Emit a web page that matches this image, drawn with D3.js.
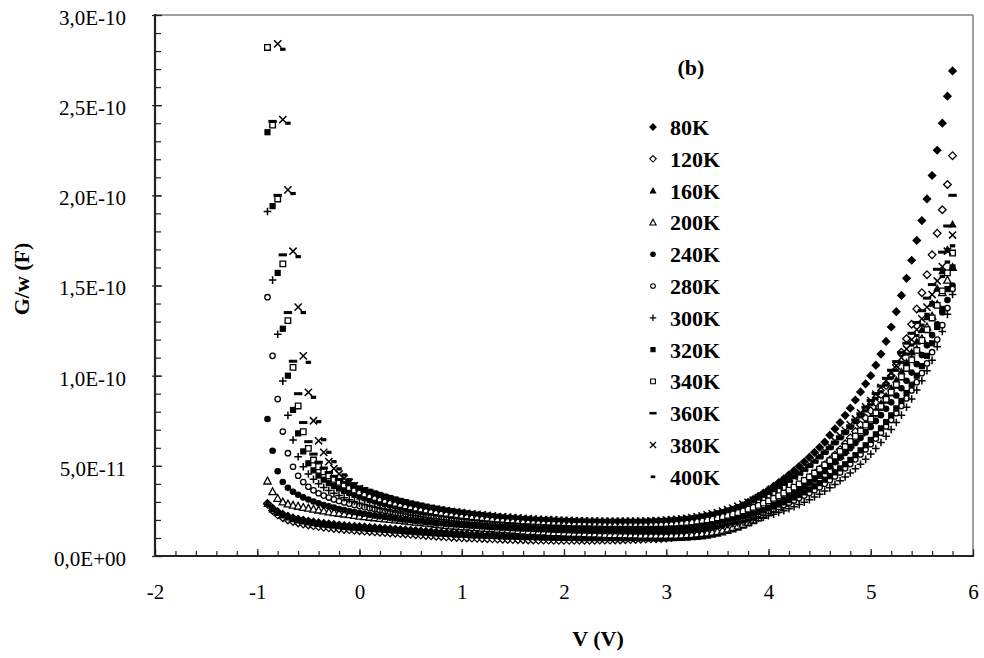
<!DOCTYPE html>
<html>
<head>
<meta charset="utf-8">
<script src="https://cdn.jsdelivr.net/npm/d3@7"></script>
<style>
  body { margin: 0; background: #fff; }
  text { font-family: "Liberation Serif", "Times New Roman", serif; fill: #000; }
</style>
</head>
<body>
<svg id="chart" width="984" height="658"></svg>
<script>
// Bias voltage (V) shared by every temperature series
const voltages = [
  -0.9,-0.85,-0.8,-0.75,-0.7,-0.65,-0.6,-0.55,-0.5,-0.45,
  -0.4,-0.35,-0.3,-0.25,-0.2,-0.15,-0.1,-0.05,0,0.05,
  0.1,0.15,0.2,0.25,0.3,0.35,0.4,0.45,0.5,0.55,
  0.6,0.65,0.7,0.75,0.8,0.85,0.9,0.95,1.0,1.05,
  1.1,1.15,1.2,1.25,1.3,1.35,1.4,1.45,1.5,1.55,
  1.6,1.65,1.7,1.75,1.8,1.85,1.9,1.95,2.0,2.05,
  2.1,2.15,2.2,2.25,2.3,2.35,2.4,2.45,2.5,2.55,
  2.6,2.65,2.7,2.75,2.8,2.85,2.9,2.95,3.0,3.05,
  3.1,3.15,3.2,3.25,3.3,3.35,3.4,3.45,3.5,3.55,
  3.6,3.65,3.7,3.75,3.8,3.85,3.9,3.95,4.0,4.05,
  4.1,4.15,4.2,4.25,4.3,4.35,4.4,4.45,4.5,4.55,
  4.6,4.65,4.7,4.75,4.8,4.85,4.9,4.95,5.0,5.05,
  5.1,5.15,5.2,5.25,5.3,5.35,5.4,5.45,5.5,5.55,
  5.6,5.65,5.7,5.75,5.8
];

// G/w in units of 1E-12 F, one array per temperature
const g80K = [
  29.2,26.5,24.6,23.2,22.1,21.2,20.5,19.9,19.4,18.9,
  18.5,18.1,17.8,17.5,17.2,16.9,16.7,16.5,16.3,16.1,
  15.9,15.7,15.5,15.3,15.1,14.9,14.7,14.5,14.3,14.1,
  13.9,13.7,13.5,13.3,13.1,12.9,12.7,12.5,12.3,12.1,
  11.9,11.8,11.6,11.5,11.4,11.3,11.2,11.1,11.0,10.9,
  10.8,10.7,10.7,10.6,10.6,10.5,10.5,10.4,10.4,10.4,
  10.4,10.4,10.4,10.4,10.4,10.4,10.5,10.5,10.5,10.6,
  10.6,10.7,10.8,10.9,11.0,11.1,11.2,11.4,11.6,11.9,
  12.3,12.8,13.5,14.3,15.3,16.5,17.8,19.2,20.6,22.0,
  23.4,24.9,26.4,28.0,29.7,31.4,33.1,34.9,36.8,38.7,
  40.7,42.8,45.0,47.3,49.7,52.2,54.8,57.5,60.3,63.2,
  67.0,70.5,74.0,78.0,82.0,86.5,91.0,95.5,100.0,105.8,
  112.0,119.0,127.0,135.5,144.5,154.0,164.0,175.0,186.0,198.0,
  211,225,240,255,269
];
const g120K = [
  28.8,25.2,22.8,21.2,20.0,19.1,18.3,17.7,17.2,16.7,
  16.3,15.9,15.6,15.3,15.0,14.7,14.5,14.2,14.0,13.8,
  13.6,13.4,13.2,13.0,12.8,12.6,12.4,12.2,12.0,11.8,
  11.6,11.4,11.2,11.0,10.8,10.6,10.4,10.3,10.1,10.0,
  9.9,9.8,9.7,9.6,9.5,9.4,9.3,9.2,9.1,9.0,
  9.0,8.9,8.9,8.8,8.8,8.8,8.7,8.7,8.7,8.7,
  8.7,8.7,8.7,8.7,8.7,8.8,8.8,8.8,8.9,8.9,
  9.0,9.1,9.2,9.3,9.4,9.5,9.6,9.75,9.9,10.2,
  10.6,11.1,11.7,12.3,13.0,13.8,14.6,15.5,16.4,17.4,
  18.4,19.5,20.6,21.8,23.0,24.3,25.6,27.0,28.5,30.0,
  31.6,33.3,35.1,37.0,39.0,41.1,43.3,45.6,48.0,50.5,
  53.2,56.0,59.0,62.2,65.5,69.0,72.7,76.5,80.5,85.0,
  89.5,94.5,100,106,113,120.5,128.5,137,146,156,
  167,179,192,206,222
];
const g160K = [
  29.0,26.0,24.0,22.6,21.5,20.6,19.9,19.3,18.8,18.3,
  17.9,17.5,17.2,16.9,16.6,16.3,16.0,15.8,15.6,15.4,
  15.2,15.0,14.8,14.6,14.4,14.2,14.0,13.8,13.6,13.4,
  13.2,13.0,12.8,12.7,12.5,12.3,12.2,12.0,11.9,11.8,
  11.6,11.5,11.4,11.3,11.2,11.1,11.0,10.9,10.8,10.7,
  10.6,10.5,10.5,10.4,10.3,10.3,10.2,10.2,10.1,10.1,
  10.1,10.0,10.0,10.0,10.0,10.0,10.0,10.0,10.0,10.0,
  10.0,10.0,10.0,10.0,10.0,10.0,10.0,10.0,10.0,10.0,
  10.1,10.2,10.3,10.5,10.7,11.0,11.4,11.9,12.5,13.2,
  14.0,14.9,15.9,17.0,18.2,19.5,20.9,22.4,24.0,25.7,
  27.5,29.4,31.4,33.5,35.7,38.0,40.4,42.9,45.5,48.2,
  51.0,53.9,56.9,60.0,63.2,66.5,69.9,73.4,77.0,80.8,
  84.7,88.8,93.1,97.6,102.4,107.5,113.0,119.0,125.5,132.5,
  140,148.5,158,170,184
];
const g200K = [
  41.6,35.7,32.0,30.0,28.9,28.2,27.6,27.0,26.5,26.0,
  25.5,25.0,24.5,24.1,23.7,23.3,22.9,22.5,22.1,21.8,
  21.5,21.2,20.9,20.6,20.3,20.0,19.7,19.4,19.1,18.8,
  18.5,18.2,17.9,17.6,17.3,17.0,16.7,16.5,16.3,16.1,
  15.9,15.7,15.5,15.3,15.1,14.9,14.7,14.5,14.3,14.1,
  13.9,13.7,13.6,13.4,13.3,13.1,13.0,12.9,12.8,12.7,
  12.6,12.5,12.4,12.3,12.2,12.1,12.0,11.9,11.9,11.8,
  11.8,11.7,11.7,11.6,11.6,11.6,11.5,11.5,11.5,11.5,
  11.6,11.7,11.8,12.0,12.2,12.5,12.8,13.2,13.7,14.3,
  15.0,15.8,16.7,17.7,18.8,20.0,21.3,22.7,24.2,25.8,
  27.5,29.3,31.2,33.2,35.3,37.5,39.8,42.2,44.7,47.3,
  50.0,52.8,55.7,58.7,61.8,65.0,68.3,71.7,75.2,78.8,
  82.5,86.4,90.5,94.8,99.3,104.0,109.0,114.5,120.5,127.0,
  133,139.5,146,153,160
];
const g240K = [
  76.0,58.4,47.0,41.0,37.8,35.6,33.9,32.5,31.3,30.2,
  29.2,28.3,27.5,26.8,26.1,25.5,24.9,24.4,23.9,23.4,
  22.9,22.4,22.0,21.6,21.2,20.8,20.4,20.1,19.8,19.5,
  19.2,18.9,18.6,18.3,18.1,17.8,17.6,17.4,17.2,17.0,
  16.8,16.6,16.4,16.2,16.0,15.9,15.7,15.6,15.4,15.3,
  15.2,15.1,15.0,14.9,14.8,14.7,14.6,14.5,14.4,14.3,
  14.2,14.2,14.1,14.0,14.0,13.9,13.9,13.8,13.8,13.7,
  13.7,13.7,13.6,13.6,13.6,13.6,13.6,13.6,13.6,13.7,
  13.8,13.9,14.1,14.3,14.6,15.0,15.4,15.9,16.5,17.2,
  17.9,18.7,19.6,20.6,21.7,22.8,24.0,25.3,26.7,28.2,
  29.7,31.3,33.0,34.8,36.7,38.6,40.6,42.7,44.9,47.2,
  49.6,52.0,54.5,57.1,59.8,62.6,65.5,68.5,71.6,74.8,
  78.1,81.6,85.2,89.0,93.0,97.2,101.7,106.4,111.4,116.8,
  122.5,128.5,135,142,150
];
const g280K = [
  143.5,111.0,87.0,69.0,57.0,49.5,44.5,41.0,38.4,36.4,
  34.8,33.5,32.4,31.4,30.5,29.7,29.0,28.3,27.7,27.1,
  26.5,25.9,25.4,24.9,24.4,23.9,23.5,23.1,22.7,22.3,
  21.9,21.6,21.3,21.0,20.7,20.4,20.1,19.9,19.7,19.5,
  19.3,19.1,18.9,18.7,18.5,18.4,18.2,18.1,17.9,17.8,
  17.7,17.6,17.5,17.4,17.3,17.2,17.1,17.0,16.9,16.9,
  16.8,16.8,16.7,16.7,16.6,16.6,16.5,16.5,16.5,16.4,
  16.4,16.4,16.4,16.4,16.4,16.4,16.4,16.4,16.5,16.5,
  16.6,16.7,16.8,17.0,17.2,17.4,17.7,18.0,18.4,18.8,
  19.3,19.8,20.4,21.0,21.7,22.4,23.2,24.0,24.9,26.0,
  27.1,28.3,29.5,30.8,32.1,33.5,35.0,36.5,38.1,40.0,
  42.0,44.1,46.3,48.6,51.0,53.6,56.3,59.1,62.0,65.1,
  68.4,71.8,75.4,79.2,83.2,87.4,91.8,96.4,101.4,106.8,
  113,120,128,137.5,148
];
const g300K = [
  191,153,123,97,78,64.3,55.0,49.5,45.5,42.5,
  40.0,38.0,36.3,34.8,33.5,32.3,31.2,30.2,29.3,28.5,
  27.7,27.0,26.3,25.6,25.0,24.4,23.8,23.3,22.8,22.3,
  21.8,21.4,21.0,20.6,20.2,19.9,19.6,19.3,19.0,18.7,
  18.5,18.3,18.1,17.9,17.7,17.5,17.3,17.2,17.0,16.9,
  16.8,16.7,16.6,16.5,16.4,16.3,16.2,16.1,16.0,15.9,
  15.9,15.8,15.8,15.7,15.7,15.6,15.6,15.5,15.5,15.5,
  15.4,15.4,15.4,15.4,15.4,15.4,15.4,15.4,15.4,15.5,
  15.5,15.6,15.7,15.8,15.9,16.1,16.3,16.5,16.8,17.1,
  17.5,17.9,18.4,18.9,19.5,20.1,20.8,21.5,22.3,23.2,
  24.1,25.1,26.2,27.3,28.5,29.8,31.2,32.7,34.3,36.0,
  37.8,39.7,41.7,43.8,46.0,48.4,50.9,53.6,56.5,59.6,
  62.9,66.4,70.1,74.0,78.1,82.5,87.1,92.0,97.2,102.7,
  108.5,116,124.5,134,145
];
const g320K = [
  235,194,157,126,100,81,68,58,51.4,47.5,
  44.6,42.3,40.4,38.8,37.4,36.1,35.0,33.9,32.9,32.0,
  31.1,30.3,29.5,28.8,28.1,27.5,26.9,26.3,25.8,25.3,
  24.8,24.3,23.9,23.5,23.1,22.7,22.3,22.0,21.7,21.4,
  21.1,20.8,20.6,20.3,20.1,19.9,19.7,19.5,19.3,19.1,
  19.0,18.8,18.7,18.6,18.4,18.3,18.2,18.1,18.0,17.9,
  17.8,17.8,17.7,17.6,17.6,17.5,17.5,17.4,17.4,17.4,
  17.3,17.3,17.3,17.3,17.3,17.3,17.3,17.3,17.4,17.4,
  17.5,17.6,17.7,17.9,18.1,18.3,18.6,18.9,19.3,19.7,
  20.2,20.7,21.3,22.0,22.7,23.5,24.4,25.3,26.3,27.4,
  28.5,29.7,31.0,32.4,33.8,35.3,36.9,38.6,40.4,42.3,
  44.3,46.4,48.6,50.9,53.3,55.9,58.6,61.4,64.4,67.5,
  70.8,74.3,78.0,81.9,86.0,90.4,95.0,100.0,105.3,111.0,
  118,127,137,148,160
];
const g340K = [
  282,239,198,162,130.5,104.6,83.2,68.9,59.7,53.2,
  49.5,46.7,44.4,42.5,40.8,39.3,37.9,36.6,35.4,34.3,
  33.3,32.4,31.5,30.7,29.9,29.2,28.5,27.8,27.2,26.6,
  26.0,25.5,25.0,24.5,24.1,23.7,23.3,22.9,22.5,22.2,
  21.9,21.6,21.3,21.0,20.8,20.5,20.3,20.1,19.9,19.7,
  19.5,19.4,19.2,19.1,18.9,18.8,18.7,18.6,18.5,18.4,
  18.3,18.3,18.2,18.2,18.1,18.1,18.0,18.0,18.0,18.0,
  17.9,17.9,17.9,17.9,17.9,17.9,18.0,18.0,18.1,18.2,
  18.3,18.5,18.7,19.0,19.3,19.7,20.1,20.6,21.2,21.8,
  22.5,23.3,24.1,25.0,26.0,27.0,28.1,29.3,30.6,32.0,
  33.4,34.9,36.5,38.2,40.0,41.9,43.9,46.0,48.2,50.5,
  52.9,55.4,58.0,60.7,63.5,66.4,69.4,72.6,75.9,79.4,
  83.0,86.8,90.8,95.0,99.4,104.0,108.8,114.0,119.5,125.5,
  132,139,147,157,168
];
const g360K = [
  320,241,200,167,135,108,90,74,63.4,56.5,
  52.0,48.8,46.3,44.2,42.4,40.8,39.4,38.1,36.9,35.8,
  34.8,33.8,32.9,32.0,31.2,30.4,29.7,29.0,28.4,27.8,
  27.2,26.7,26.2,25.7,25.2,24.8,24.4,24.0,23.6,23.3,
  23.0,22.7,22.4,22.1,21.8,21.5,21.3,21.1,20.9,20.7,
  20.5,20.3,20.1,20.0,19.8,19.7,19.6,19.5,19.4,19.3,
  19.2,19.1,19.1,19.0,19.0,18.9,18.9,18.8,18.8,18.8,
  18.8,18.8,18.8,18.8,18.8,18.9,19.0,19.1,19.2,19.4,
  19.6,19.9,20.2,20.6,21.0,21.5,22.1,22.7,23.4,24.2,
  25.1,26.0,27.0,28.1,29.2,30.4,31.7,33.1,34.6,36.2,
  37.9,39.7,41.6,43.6,45.7,47.9,50.2,52.6,55.1,57.7,
  60.4,63.2,66.1,69.1,72.2,75.5,78.9,82.5,86.2,90.1,
  94.2,98.5,103.0,107.8,112.8,118.0,123.5,129.5,136.0,143.0,
  150.5,159,168.5,183,200
];
const g380K = [
  390,335,284,242,203,169,138,111,90.8,75.0,
  63.9,57.5,52.3,48.5,45.5,43.0,40.8,38.9,37.3,36.1,
  35.0,34.0,33.1,32.2,31.4,30.7,30.0,29.3,28.7,28.1,
  27.5,27.0,26.5,26.0,25.6,25.2,24.8,24.4,24.0,23.7,
  23.4,23.1,22.8,22.5,22.2,21.9,21.7,21.5,21.3,21.1,
  20.9,20.7,20.5,20.4,20.2,20.1,20.0,19.9,19.8,19.7,
  19.6,19.5,19.5,19.4,19.4,19.3,19.3,19.3,19.3,19.3,
  19.3,19.3,19.3,19.3,19.4,19.5,19.6,19.7,19.9,20.1,
  20.3,20.6,20.9,21.3,21.7,22.2,22.8,23.4,24.1,24.9,
  25.7,26.6,27.6,28.7,29.8,31.0,32.3,33.7,35.2,36.8,
  38.5,40.3,42.2,44.2,46.3,48.5,50.8,53.2,55.7,58.3,
  61.0,63.8,66.7,69.7,72.8,76.0,79.3,82.7,86.2,89.8,
  93.5,97.3,101.3,105.5,110.0,114.8,120.0,125.5,131.5,138.0,
  145,152.5,160.5,169,178
];
const g400K = [
  450,390,330,281,240,201,166,135,107.4,88.0,
  74.5,64.5,57.5,52.3,48.3,45.0,42.3,40.1,38.3,37.4,
  36.5,35.6,34.7,33.8,33.0,32.2,31.4,30.7,30.0,29.4,
  28.8,28.2,27.6,27.1,26.6,26.1,25.7,25.3,24.9,24.5,
  24.1,23.8,23.5,23.2,22.9,22.6,22.3,22.0,21.8,21.6,
  21.4,21.2,21.0,20.8,20.7,20.6,20.5,20.4,20.3,20.2,
  20.1,20.0,20.0,19.9,19.9,19.8,19.8,19.8,19.8,19.8,
  19.8,19.8,19.8,19.8,19.9,20.0,20.1,20.2,20.4,20.6,
  20.8,21.1,21.4,21.8,22.2,22.7,23.2,23.8,24.5,25.2,
  26.0,26.9,27.8,28.8,29.9,31.0,32.2,33.5,34.9,36.4,
  38.0,39.7,41.5,43.4,45.4,47.5,49.7,52.0,54.4,56.9,
  59.5,62.2,65.0,67.9,70.9,74.0,77.2,80.5,83.9,87.4,
  91.0,94.8,98.8,103.0,107.4,112.0,117.0,122.3,128.0,134.0,
  140.5,147.5,155,163,172
];

const temperatures = ["80K","120K","160K","200K","240K","280K","300K","320K","340K","360K","380K","400K"];
const seriesValues = [g80K,g120K,g160K,g200K,g240K,g280K,g300K,g320K,g340K,g360K,g380K,g400K];

// Axis ticks (values in 1E-12 F on y)
const xTickValues = [-2,-1,0,1,2,3,4,5,6];
const yTickValues = [0,50,100,150,200,250,300];
const yTickLabels = ["0,0E+00","5,0E-11","1,0E-10","1,5E-10","2,0E-10","2,5E-10","3,0E-10"];

// Marker shape for each series, in legend order
const markerKinds = ["diamond","diamondOpen","triangle","triangleOpen","circle","circleOpen",
                     "plus","square","squareOpen","longBar","cross","shortBar"];

const svg = d3.select("#chart");
const W = 984, H = 658;
const plot = { left: 155, right: 973, top: 15, bottom: 556 };

svg.append("rect").attr("width", W).attr("height", H).attr("fill", "#fff");

const x = d3.scaleLinear().domain([-2, 6]).range([plot.left, plot.right]);
const y = d3.scaleLinear().domain([0, 300]).range([plot.bottom, plot.top]);

// Marker drawing
function markerPath(kind) {
  switch (kind) {
    case "diamond": return "M0,-4.6L4.6,0L0,4.6L-4.6,0Z";
    case "diamondOpen": return "M0,-3.8L3.8,0L0,3.8L-3.8,0Z";
    case "triangle": return "M0,-4.2L4.2,3.3L-4.2,3.3Z";
    case "triangleOpen": return "M0,-3.8L3.7,3.0L-3.7,3.0Z";
    case "circle": return d3.symbol(d3.symbolCircle, Math.PI * 3.3 * 3.3)();
    case "circleOpen": return d3.symbol(d3.symbolCircle, Math.PI * 2.7 * 2.7)();
    case "plus": return "M-3.8,0H3.8M0,-3.8V3.8";
    case "square": return "M-3.1,-3.1H3.1V3.1H-3.1Z";
    case "squareOpen": return "M-2.8,-2.8H2.8V2.8H-2.8Z";
    case "longBar": return "M-4.2,-1.5H4.2V1.5H-4.2Z";
    case "cross": return "M-3.6,-3.6L3.6,3.6M-3.6,3.6L3.6,-3.6";
    case "shortBar": return "M-2.7,-1.6H2.7V1.6H-2.7Z";
  }
}
function styleMarker(sel, kind) {
  const open = kind.endsWith("Open");
  const stroked = kind === "plus" || kind === "cross";
  sel.attr("d", markerPath(kind))
     .attr("fill", open ? "#fff" : (stroked ? "none" : "#000"))
     .attr("stroke", open || stroked ? "#000" : "none")
     .attr("stroke-width", stroked ? 1.5 : 1.3);
}

// Data points, drawn series by series
const series = temperatures.map((name, k) => ({
  name, kind: markerKinds[k],
  points: voltages.map((v, i) => ({ v, g: seriesValues[k][i] }))
                  .filter(p => p.g <= y.domain()[1])
}));

const pointsLayer = svg.append("g");
series.forEach(s => {
  pointsLayer.append("g")
    .selectAll("path")
    .data(s.points)
    .join("path")
    .attr("transform", p => `translate(${x(p.v)},${y(p.g)})`)
    .call(styleMarker, s.kind);
});

// Frame: grey top/right, dark axes left/bottom
svg.append("line").attr("x1", plot.left).attr("x2", plot.right).attr("y1", plot.top).attr("y2", plot.top)
  .attr("stroke", "#808080").attr("stroke-width", 1.5);
svg.append("line").attr("x1", plot.right).attr("x2", plot.right).attr("y1", plot.top).attr("y2", plot.bottom)
  .attr("stroke", "#808080").attr("stroke-width", 1.5);

// Y axis: minor inward ticks every 1E-11, labelled major ticks
const yMinor = d3.range(0, 301, 10);
svg.append("g").attr("transform", `translate(${plot.left},0)`)
  .call(d3.axisLeft(y).tickValues(yMinor).tickSizeInner(-6).tickSizeOuter(0).tickFormat(""))
  .call(g => g.select(".domain").remove())
  .call(g => g.selectAll("line").attr("stroke", "#222").attr("stroke-width", 1.2));

const yAxis = svg.append("g").attr("transform", `translate(${plot.left},0)`)
  .call(d3.axisLeft(y).tickValues(yTickValues).tickSizeInner(-7).tickSizeOuter(0).tickPadding(29)
        .tickFormat((d, i) => yTickLabels[i]));
yAxis.select(".domain").remove();
yAxis.selectAll("line").attr("x1", -3).attr("stroke", "#222").attr("stroke-width", 1.2);
yAxis.selectAll("text").attr("font-size", 21).attr("font-family", '"Liberation Serif", "Times New Roman", serif')
  .attr("dy", "0.45em");

// X axis: minor inward ticks every 0.2 V, labelled integers
const xMinor = d3.range(-20, 61, 2).map(d => d / 10);
svg.append("g").attr("transform", `translate(0,${plot.bottom})`)
  .call(d3.axisBottom(x).tickValues(xMinor).tickSizeInner(-5).tickSizeOuter(0).tickFormat(""))
  .call(g => g.select(".domain").remove())
  .call(g => g.selectAll("line").attr("stroke", "#222").attr("stroke-width", 1.2));

const xAxis = svg.append("g").attr("transform", `translate(0,${plot.bottom})`)
  .call(d3.axisBottom(x).tickValues(xTickValues).tickSizeInner(-7).tickSizeOuter(0).tickPadding(28)
        .tickFormat(d3.format("d")));
xAxis.select(".domain").remove();
xAxis.selectAll("line").attr("stroke", "#222").attr("stroke-width", 1.2);
xAxis.selectAll("text").attr("font-size", 21).attr("font-family", '"Liberation Serif", "Times New Roman", serif')
  .text(d => d < 0 ? "-" + Math.abs(d) : String(d));

svg.append("line").attr("x1", plot.left).attr("x2", plot.left).attr("y1", plot.top - 1).attr("y2", plot.bottom + 1)
  .attr("stroke", "#222").attr("stroke-width", 2.2);
svg.append("line").attr("x1", plot.left - 1).attr("x2", plot.right + 1).attr("y1", plot.bottom).attr("y2", plot.bottom)
  .attr("stroke", "#222").attr("stroke-width", 2.2);

// Axis titles
svg.append("text").attr("x", 598).attr("y", 646).attr("text-anchor", "middle")
  .attr("font-size", 22).attr("font-weight", "bold").text("V (V)");
svg.append("text").attr("transform", "translate(29,279) rotate(-90)").attr("text-anchor", "middle")
  .attr("font-size", 22).attr("font-weight", "bold").text("G/w (F)");

// Panel tag
svg.append("text").attr("x", 691).attr("y", 75).attr("text-anchor", "middle")
  .attr("font-size", 22).attr("font-weight", "bold").text("(b)");

// Legend
const legend = svg.append("g");
series.forEach((s, k) => {
  const row = legend.append("g").attr("transform", `translate(653,${127 + k * 31.8})`);
  row.append("path").call(styleMarker, s.kind).attr("transform", "scale(0.85)");
  row.append("text").attr("x", 17).attr("dy", "0.36em")
    .attr("font-size", 22).attr("font-weight", "bold").text(s.name);
});
</script>
</body>
</html>
